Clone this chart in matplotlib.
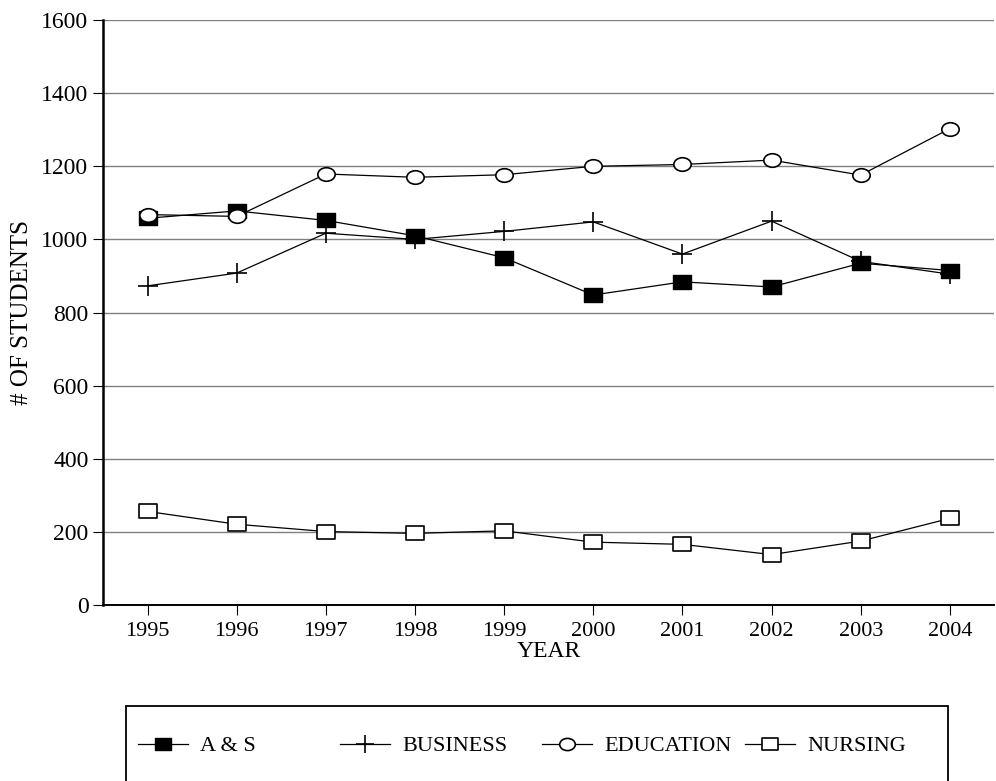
import matplotlib
matplotlib.use("Agg")
import matplotlib.pyplot as plt
from matplotlib.patches import Rectangle
from matplotlib.path import Path
from matplotlib.transforms import Affine2D

years = [1995, 1996, 1997, 1998, 1999, 2000, 2001, 2002, 2003, 2004]
a_and_s = [1058, 1078, 1052, 1010, 950, 848, 884, 870, 935, 915]
business = [873, 908, 1017, 1000, 1022, 1048, 960, 1050, 940, 905]
education = [1068, 1063, 1179, 1170, 1177, 1200, 1205, 1217, 1176, 1303]
nursing = [256, 221, 201, 196, 203, 172, 166, 138, 175, 237]

yticks = [0, 200, 400, 600, 800, 1000, 1200, 1400, 1600]

plt.rcParams["font.family"] = ["Liberation Serif", "DejaVu Serif"]

# slightly flattened markers, like the printed original
rect = Path([(-1, -0.8), (1, -0.8), (1, 0.8), (-1, 0.8), (-1, -0.8)],
            [Path.MOVETO, Path.LINETO, Path.LINETO, Path.LINETO, Path.CLOSEPOLY])
ellipse = Path.unit_circle().transformed(Affine2D().scale(1, 0.78))

fig = plt.figure(figsize=(9.96, 7.81), dpi=100)
ax = fig.add_axes([0.1034, 0.2253, 0.895, 0.749])

ax.plot(years, a_and_s, color="black", lw=0.9, marker=rect, ms=12.5,
        mfc="black", mec="black", label="A & S")
ax.plot(years, business, color="black", lw=0.9, marker="+", ms=15,
        mew=1.2, label="BUSINESS")
ax.plot(years, education, color="black", lw=0.9, marker=ellipse, ms=12.5,
        mfc="white", mec="black", mew=1.2, label="EDUCATION")
ax.plot(years, nursing, color="black", lw=0.9, marker=rect, ms=12.5,
        mfc="white", mec="black", mew=1.2, label="NURSING")

ax.set_xlim(1994.5, 2004.5)
ax.set_ylim(0, 1600)
ax.set_xticks(years)
ax.set_yticks(yticks)
ax.tick_params(labelsize=17, direction="out", length=7, color="black")
ax.tick_params(axis="x", labelsize=16, pad=5)
ax.yaxis.grid(True, color="#808080", lw=1)
ax.set_axisbelow(True)

for side in ["top", "right"]:
    ax.spines[side].set_visible(False)
ax.spines["left"].set_linewidth(1.8)
ax.spines["bottom"].set_linewidth(1.4)

ax.set_xlabel("YEAR", fontsize=17, labelpad=0)
ax.set_ylabel("# OF STUDENTS", fontsize=18, labelpad=6)

# legend box (bottom edge runs off the page in the original)
box = Rectangle((126 / 996, -0.05), 822 / 996, 0.05 + 1 - 706 / 781,
                transform=fig.transFigure, fill=False, edgecolor="black", lw=1.3)
fig.patches.append(box)

# one legend per entry so the spacing follows the original
handles, labels = ax.get_legend_handles_labels()
starts = [138, 340, 542, 745]
for h, lab, x0 in zip(handles, labels, starts):
    leg = fig.legend([h], [lab], loc="center left",
                     bbox_to_anchor=(x0 / 996, 1 - 746 / 781),
                     fontsize=16, frameon=False, borderpad=0.0,
                     borderaxespad=0.0, handlelength=2.25,
                     handletextpad=0.55, markerscale=0.9)

fig.savefig("out.png", dpi=100)
